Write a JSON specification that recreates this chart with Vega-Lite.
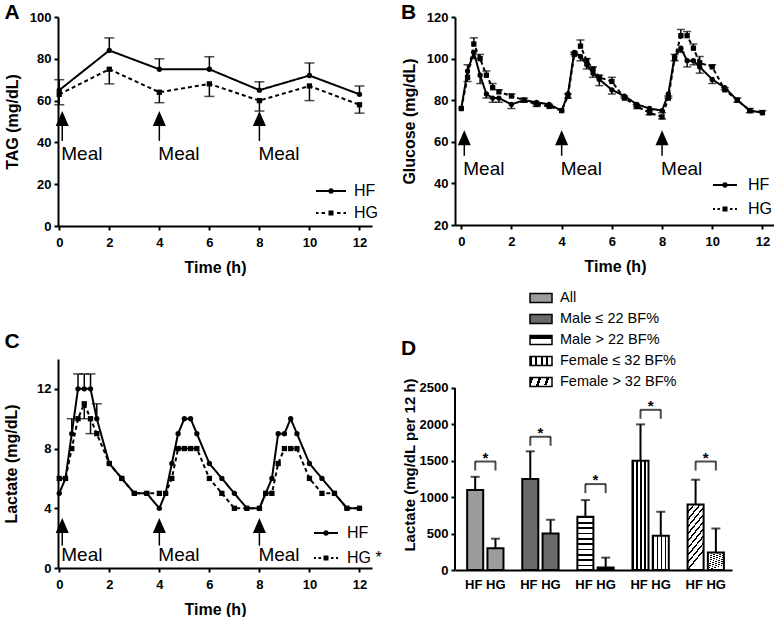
{
  "$schema": "https://vega.github.io/schema/vega-lite/v6.json",
  "padding": {"left": 3, "top": 2, "right": 0, "bottom": 0},
  "columns": 2,
  "bounds": "flush",
  "spacing": {"row": 133, "column": 83},
  "resolve": {"scale": {"shape": "independent", "fill": "independent"}, "legend": {"shape": "independent", "fill": "independent"}},
  "params": [
    {"name": "gH", "value": {"gradient": "linear", "x1": 0, "y1": 0, "x2": 0, "y2": 1, "stops": [
      {"offset": 0, "color": "black"}, {"offset": 0.03, "color": "black"}, {"offset": 0.03, "color": "white"}, {"offset": 0.1, "color": "white"},
      {"offset": 0.1, "color": "black"}, {"offset": 0.13, "color": "black"}, {"offset": 0.13, "color": "white"}, {"offset": 0.2, "color": "white"},
      {"offset": 0.2, "color": "black"}, {"offset": 0.23, "color": "black"}, {"offset": 0.23, "color": "white"}, {"offset": 0.3, "color": "white"},
      {"offset": 0.3, "color": "black"}, {"offset": 0.33, "color": "black"}, {"offset": 0.33, "color": "white"}, {"offset": 0.4, "color": "white"},
      {"offset": 0.4, "color": "black"}, {"offset": 0.43, "color": "black"}, {"offset": 0.43, "color": "white"}, {"offset": 0.5, "color": "white"},
      {"offset": 0.5, "color": "black"}, {"offset": 0.53, "color": "black"}, {"offset": 0.53, "color": "white"}, {"offset": 0.6, "color": "white"},
      {"offset": 0.6, "color": "black"}, {"offset": 0.63, "color": "black"}, {"offset": 0.63, "color": "white"}, {"offset": 0.7, "color": "white"},
      {"offset": 0.7, "color": "black"}, {"offset": 0.73, "color": "black"}, {"offset": 0.73, "color": "white"}, {"offset": 0.8, "color": "white"},
      {"offset": 0.8, "color": "black"}, {"offset": 0.83, "color": "black"}, {"offset": 0.83, "color": "white"}, {"offset": 0.9, "color": "white"},
      {"offset": 0.9, "color": "black"}, {"offset": 0.93, "color": "black"}, {"offset": 0.93, "color": "white"}, {"offset": 1, "color": "white"}
    ]}},
    {"name": "gV", "value": {"gradient": "linear", "x1": 0, "y1": 0, "x2": 1, "y2": 0, "stops": [
      {"offset": 0, "color": "black"}, {"offset": 0.08, "color": "black"}, {"offset": 0.08, "color": "white"}, {"offset": 0.25, "color": "white"},
      {"offset": 0.25, "color": "black"}, {"offset": 0.33, "color": "black"}, {"offset": 0.33, "color": "white"}, {"offset": 0.5, "color": "white"},
      {"offset": 0.5, "color": "black"}, {"offset": 0.58, "color": "black"}, {"offset": 0.58, "color": "white"}, {"offset": 0.75, "color": "white"},
      {"offset": 0.75, "color": "black"}, {"offset": 0.83, "color": "black"}, {"offset": 0.83, "color": "white"}, {"offset": 1, "color": "white"}
    ]}},
    {"name": "gD", "value": {"gradient": "linear", "x1": 0, "y1": 0, "x2": 0.3, "y2": 1, "stops": [
      {"offset": 0, "color": "black"}, {"offset": 0.03, "color": "black"}, {"offset": 0.03, "color": "white"}, {"offset": 0.1, "color": "white"},
      {"offset": 0.1, "color": "black"}, {"offset": 0.13, "color": "black"}, {"offset": 0.13, "color": "white"}, {"offset": 0.2, "color": "white"},
      {"offset": 0.2, "color": "black"}, {"offset": 0.23, "color": "black"}, {"offset": 0.23, "color": "white"}, {"offset": 0.3, "color": "white"},
      {"offset": 0.3, "color": "black"}, {"offset": 0.33, "color": "black"}, {"offset": 0.33, "color": "white"}, {"offset": 0.4, "color": "white"},
      {"offset": 0.4, "color": "black"}, {"offset": 0.43, "color": "black"}, {"offset": 0.43, "color": "white"}, {"offset": 0.5, "color": "white"},
      {"offset": 0.5, "color": "black"}, {"offset": 0.53, "color": "black"}, {"offset": 0.53, "color": "white"}, {"offset": 0.6, "color": "white"},
      {"offset": 0.6, "color": "black"}, {"offset": 0.63, "color": "black"}, {"offset": 0.63, "color": "white"}, {"offset": 0.7, "color": "white"},
      {"offset": 0.7, "color": "black"}, {"offset": 0.73, "color": "black"}, {"offset": 0.73, "color": "white"}, {"offset": 0.8, "color": "white"},
      {"offset": 0.8, "color": "black"}, {"offset": 0.83, "color": "black"}, {"offset": 0.83, "color": "white"}, {"offset": 0.9, "color": "white"},
      {"offset": 0.9, "color": "black"}, {"offset": 0.93, "color": "black"}, {"offset": 0.93, "color": "white"}, {"offset": 1, "color": "white"}
    ]}}
  ],
  "config": {
    "font": "Liberation Sans",
    "view": {"stroke": null},
    "axis": {"domainColor": "black", "domainWidth": 2, "tickColor": "black", "tickWidth": 2, "tickSize": 4, "labelFont": "Liberation Sans", "labelFontSize": 13, "labelFontWeight": "bold", "labelColor": "black", "titleFont": "Liberation Sans", "titleFontSize": 16, "titleFontWeight": "bold", "titleColor": "black", "grid": false, "labelOverlap": false},
    "axisX": {"labelPadding": 6, "titlePadding": 10, "labelAngle": 0},
    "axisY": {"labelPadding": 3, "titlePadding": 9},
    "title": {"anchor": "start", "frame": "group", "fontSize": 21, "fontWeight": "bold", "color": "black", "font": "Liberation Sans", "offset": 0},
    "legend": {"labelFont": "Liberation Sans", "labelColor": "black", "titleColor": "black", "titleFont": "Liberation Sans"}
  },
  "datasets": {
    "meals": [{"t": 0.12, "label": "Meal"}, {"t": 4, "label": "Meal"}, {"t": 8, "label": "Meal"}],
    "tag": [
      {"t": 0, "diet": "HF", "v": 65, "e": 70}, {"t": 2, "diet": "HF", "v": 84, "e": 90}, {"t": 4, "diet": "HF", "v": 75, "e": 80}, {"t": 6, "diet": "HF", "v": 75, "e": 81}, {"t": 8, "diet": "HF", "v": 65, "e": 69}, {"t": 10, "diet": "HF", "v": 72, "e": 78}, {"t": 12, "diet": "HF", "v": 63, "e": 67},
      {"t": 0, "diet": "HG", "v": 63, "e": 58}, {"t": 2, "diet": "HG", "v": 75, "e": 68}, {"t": 4, "diet": "HG", "v": 64, "e": 59}, {"t": 6, "diet": "HG", "v": 68, "e": 62}, {"t": 8, "diet": "HG", "v": 60, "e": 55}, {"t": 10, "diet": "HG", "v": 67, "e": 60}, {"t": 12, "diet": "HG", "v": 58, "e": 54}
    ],
    "glucose": [
      {"t": 0, "diet": "HF", "v": 76, "e": 76}, {"t": 0.25, "diet": "HF", "v": 94, "e": 97}, {"t": 0.5, "diet": "HF", "v": 103, "e": 100}, {"t": 0.75, "diet": "HF", "v": 92, "e": 88}, {"t": 1, "diet": "HF", "v": 83, "e": 81}, {"t": 1.25, "diet": "HF", "v": 81, "e": 79}, {"t": 1.5, "diet": "HF", "v": 81, "e": 79}, {"t": 2, "diet": "HF", "v": 78, "e": 76}, {"t": 2.5, "diet": "HF", "v": 80, "e": 79}, {"t": 3, "diet": "HF", "v": 79, "e": 78}, {"t": 3.5, "diet": "HF", "v": 78, "e": 77}, {"t": 4, "diet": "HF", "v": 75, "e": 75},
      {"t": 4.25, "diet": "HF", "v": 83, "e": 81}, {"t": 4.5, "diet": "HF", "v": 103, "e": 102}, {"t": 4.75, "diet": "HF", "v": 101, "e": 99}, {"t": 5, "diet": "HF", "v": 97, "e": 95}, {"t": 5.25, "diet": "HF", "v": 93, "e": 91}, {"t": 5.5, "diet": "HF", "v": 90, "e": 87}, {"t": 6, "diet": "HF", "v": 85, "e": 83}, {"t": 6.5, "diet": "HF", "v": 82, "e": 81}, {"t": 7, "diet": "HF", "v": 78, "e": 77}, {"t": 7.5, "diet": "HF", "v": 76, "e": 75}, {"t": 8, "diet": "HF", "v": 75, "e": 74},
      {"t": 8.25, "diet": "HF", "v": 83, "e": 81}, {"t": 8.5, "diet": "HF", "v": 101, "e": 99}, {"t": 8.75, "diet": "HF", "v": 105, "e": 103}, {"t": 9, "diet": "HF", "v": 99, "e": 96}, {"t": 9.25, "diet": "HF", "v": 99, "e": 97}, {"t": 9.5, "diet": "HF", "v": 96, "e": 93}, {"t": 10, "diet": "HF", "v": 90, "e": 88}, {"t": 10.5, "diet": "HF", "v": 86, "e": 85}, {"t": 11, "diet": "HF", "v": 80, "e": 79}, {"t": 11.5, "diet": "HF", "v": 75, "e": 74}, {"t": 12, "diet": "HF", "v": 74, "e": 74},
      {"t": 0, "diet": "HG", "v": 76, "e": 76}, {"t": 0.25, "diet": "HG", "v": 91, "e": 89}, {"t": 0.5, "diet": "HG", "v": 107, "e": 110}, {"t": 0.75, "diet": "HG", "v": 100, "e": 102}, {"t": 1, "diet": "HG", "v": 92, "e": 94}, {"t": 1.25, "diet": "HG", "v": 86, "e": 88}, {"t": 1.5, "diet": "HG", "v": 84, "e": 85}, {"t": 2, "diet": "HG", "v": 82, "e": 83}, {"t": 2.5, "diet": "HG", "v": 80, "e": 81}, {"t": 3, "diet": "HG", "v": 78, "e": 77}, {"t": 3.5, "diet": "HG", "v": 77, "e": 78}, {"t": 4, "diet": "HG", "v": 75, "e": 75},
      {"t": 4.25, "diet": "HG", "v": 82, "e": 83}, {"t": 4.5, "diet": "HG", "v": 102, "e": 103}, {"t": 4.75, "diet": "HG", "v": 106, "e": 109}, {"t": 5, "diet": "HG", "v": 99, "e": 100}, {"t": 5.25, "diet": "HG", "v": 95, "e": 96}, {"t": 5.5, "diet": "HG", "v": 91, "e": 92}, {"t": 6, "diet": "HG", "v": 89, "e": 91}, {"t": 6.5, "diet": "HG", "v": 81, "e": 82}, {"t": 7, "diet": "HG", "v": 77, "e": 76}, {"t": 7.5, "diet": "HG", "v": 74, "e": 73}, {"t": 8, "diet": "HG", "v": 72, "e": 71},
      {"t": 8.25, "diet": "HG", "v": 81, "e": 82}, {"t": 8.5, "diet": "HG", "v": 100, "e": 102}, {"t": 8.75, "diet": "HG", "v": 111, "e": 114}, {"t": 9, "diet": "HG", "v": 111, "e": 113}, {"t": 9.25, "diet": "HG", "v": 105, "e": 107}, {"t": 9.5, "diet": "HG", "v": 98, "e": 101}, {"t": 10, "diet": "HG", "v": 96, "e": 97}, {"t": 10.5, "diet": "HG", "v": 85, "e": 86}, {"t": 11, "diet": "HG", "v": 80, "e": 81}, {"t": 11.5, "diet": "HG", "v": 75, "e": 76}, {"t": 12, "diet": "HG", "v": 74, "e": 75}
    ],
    "lactate": [
      {"t": 0, "diet": "HF", "v": 5, "e": 5}, {"t": 0.25, "diet": "HF", "v": 6, "e": 6}, {"t": 0.5, "diet": "HF", "v": 9, "e": 10}, {"t": 0.75, "diet": "HF", "v": 12, "e": 13}, {"t": 1, "diet": "HF", "v": 12, "e": 13}, {"t": 1.25, "diet": "HF", "v": 12, "e": 13}, {"t": 1.5, "diet": "HF", "v": 10, "e": 11}, {"t": 2, "diet": "HF", "v": 7, "e": 7}, {"t": 2.5, "diet": "HF", "v": 6, "e": 6}, {"t": 3, "diet": "HF", "v": 5, "e": 5}, {"t": 3.5, "diet": "HF", "v": 5, "e": 5}, {"t": 4, "diet": "HF", "v": 4, "e": 4},
      {"t": 4.25, "diet": "HF", "v": 5, "e": 5}, {"t": 4.5, "diet": "HF", "v": 7, "e": 7}, {"t": 4.75, "diet": "HF", "v": 9, "e": 9}, {"t": 5, "diet": "HF", "v": 10, "e": 10}, {"t": 5.25, "diet": "HF", "v": 10, "e": 10}, {"t": 5.5, "diet": "HF", "v": 9, "e": 9}, {"t": 6, "diet": "HF", "v": 7, "e": 7}, {"t": 6.5, "diet": "HF", "v": 6, "e": 6}, {"t": 7, "diet": "HF", "v": 5, "e": 5}, {"t": 7.5, "diet": "HF", "v": 4, "e": 4}, {"t": 8, "diet": "HF", "v": 4, "e": 4},
      {"t": 8.25, "diet": "HF", "v": 5, "e": 5}, {"t": 8.5, "diet": "HF", "v": 6, "e": 6}, {"t": 8.75, "diet": "HF", "v": 9, "e": 9}, {"t": 9, "diet": "HF", "v": 9, "e": 9}, {"t": 9.25, "diet": "HF", "v": 10, "e": 10}, {"t": 9.5, "diet": "HF", "v": 9, "e": 9}, {"t": 10, "diet": "HF", "v": 7, "e": 7}, {"t": 10.5, "diet": "HF", "v": 6, "e": 6}, {"t": 11, "diet": "HF", "v": 5, "e": 5}, {"t": 11.5, "diet": "HF", "v": 4, "e": 4}, {"t": 12, "diet": "HF", "v": 4, "e": 4},
      {"t": 0, "diet": "HG", "v": 6, "e": 6}, {"t": 0.25, "diet": "HG", "v": 6, "e": 6}, {"t": 0.5, "diet": "HG", "v": 8, "e": 8}, {"t": 0.75, "diet": "HG", "v": 10, "e": 10}, {"t": 1, "diet": "HG", "v": 11, "e": 10}, {"t": 1.25, "diet": "HG", "v": 10, "e": 9}, {"t": 1.5, "diet": "HG", "v": 9, "e": 9}, {"t": 2, "diet": "HG", "v": 7, "e": 7}, {"t": 2.5, "diet": "HG", "v": 6, "e": 6}, {"t": 3, "diet": "HG", "v": 5, "e": 5}, {"t": 3.5, "diet": "HG", "v": 5, "e": 5}, {"t": 4, "diet": "HG", "v": 5, "e": 5},
      {"t": 4.25, "diet": "HG", "v": 5, "e": 5}, {"t": 4.5, "diet": "HG", "v": 6, "e": 6}, {"t": 4.75, "diet": "HG", "v": 8, "e": 8}, {"t": 5, "diet": "HG", "v": 8, "e": 8}, {"t": 5.25, "diet": "HG", "v": 8, "e": 8}, {"t": 5.5, "diet": "HG", "v": 8, "e": 8}, {"t": 6, "diet": "HG", "v": 6, "e": 6}, {"t": 6.5, "diet": "HG", "v": 5, "e": 5}, {"t": 7, "diet": "HG", "v": 4, "e": 4}, {"t": 7.5, "diet": "HG", "v": 4, "e": 4}, {"t": 8, "diet": "HG", "v": 4, "e": 4},
      {"t": 8.25, "diet": "HG", "v": 5, "e": 5}, {"t": 8.5, "diet": "HG", "v": 5, "e": 5}, {"t": 8.75, "diet": "HG", "v": 7, "e": 7}, {"t": 9, "diet": "HG", "v": 8, "e": 8}, {"t": 9.25, "diet": "HG", "v": 8, "e": 8}, {"t": 9.5, "diet": "HG", "v": 8, "e": 8}, {"t": 10, "diet": "HG", "v": 6, "e": 6}, {"t": 10.5, "diet": "HG", "v": 5, "e": 5}, {"t": 11, "diet": "HG", "v": 5, "e": 5}, {"t": 11.5, "diet": "HG", "v": 4, "e": 4}, {"t": 12, "diet": "HG", "v": 4, "e": 4}
    ],
    "lactsum": [
      {"group": "All", "diet": "HF", "v": 1100, "e": 1280, "sig": 1490}, {"group": "All", "diet": "HG", "v": 300, "e": 430, "sig": 1490},
      {"group": "Male ≤ 22 BF%", "diet": "HF", "v": 1250, "e": 1630, "sig": 1830}, {"group": "Male ≤ 22 BF%", "diet": "HG", "v": 500, "e": 690, "sig": 1830},
      {"group": "Male > 22 BF%", "diet": "HF", "v": 730, "e": 960, "sig": 1180}, {"group": "Male > 22 BF%", "diet": "HG", "v": 35, "e": 170, "sig": 1180},
      {"group": "Female ≤ 32 BF%", "diet": "HF", "v": 1500, "e": 2000, "sig": 2200}, {"group": "Female ≤ 32 BF%", "diet": "HG", "v": 470, "e": 800, "sig": 2200},
      {"group": "Female > 32 BF%", "diet": "HF", "v": 900, "e": 1240, "sig": 1490}, {"group": "Female > 32 BF%", "diet": "HG", "v": 240, "e": 570, "sig": 1490}
    ]
  },
  "concat": [
    {
      "width": 314, "height": 209,
      "title": {"text": "A", "dx": -53.5, "dy": 16},
      "data": {"name": "tag"},
      "encoding": {"x": {"field": "t", "type": "quantitative", "scale": {"domain": [-0.05, 12.5], "nice": false}, "axis": {"values": [0, 2, 4, 6, 8, 10, 12], "title": "Time (h)"}}},
      "layer": [
        {"mark": {"type": "line", "color": "black", "strokeWidth": 2}, "encoding": {"y": {"field": "v", "type": "quantitative", "scale": {"domain": [0, 100], "nice": false}, "axis": {"values": [0, 20, 40, 60, 80, 100], "title": "TAG (mg/dL)"}}, "detail": {"field": "diet"}, "strokeDash": {"condition": {"test": "datum.diet == 'HG'", "value": [4, 3]}, "value": [1, 0]}}},
        {"transform": [{"filter": "datum.e != datum.v"}], "mark": {"type": "rule", "color": "black", "strokeWidth": 1.5}, "encoding": {"y": {"field": "v", "type": "quantitative"}, "y2": {"field": "e"}}},
        {"transform": [{"filter": "datum.e != datum.v"}], "mark": {"type": "tick", "orient": "horizontal", "color": "black", "thickness": 1.5, "size": 10}, "encoding": {"y": {"field": "e", "type": "quantitative"}}},
        {"mark": {"type": "point", "filled": true, "size": 28, "color": "black", "opacity": 1}, "encoding": {"y": {"field": "v", "type": "quantitative"}, "shape": {"condition": {"test": "datum.diet == 'HG'", "value": "square"}, "value": "circle"}}},
        {"mark": {"type": "point", "filled": true, "size": 100, "color": "black", "opacity": 0}, "encoding": {"y": {"field": "v", "type": "quantitative"}, "shape": {"field": "diet", "type": "nominal", "scale": {"domain": ["HF", "HG"], "range": ["M-3,-0.2H-0.5V0.2H-3ZM0.5,-0.2H3V0.2H0.5ZM0.55,0A0.55,0.55,0,1,1,-0.55,0A0.55,0.55,0,1,1,0.55,0Z", "M-3,-0.2H-2.5V0.2H-3ZM-1.9,-0.2H-1.2V0.2H-1.9ZM-0.5,-0.5H0.5V0.5H-0.5ZM1.2,-0.2H1.9V0.2H1.2ZM2.5,-0.2H3V0.2H2.5Z"]}, "legend": {"title": null, "orient": "none", "legendX": 265, "legendY": 166, "labelFontSize": 16, "labelFontWeight": "normal", "symbolSize": 100, "labelOffset": 15, "rowPadding": 6, "symbolOpacity": 1, "symbolStrokeWidth": 0, "symbolFillColor": "black"}}}},
        {"data": {"name": "meals"}, "mark": {"type": "rule", "color": "black", "strokeWidth": 1.5}, "encoding": {"y": {"datum": 40.7, "type": "quantitative"}, "y2": {"datum": 48}}},
        {"data": {"name": "meals"}, "mark": {"type": "point", "filled": true, "color": "black", "opacity": 1, "size": 225, "shape": "M0,-1L0.87,1L-0.87,1Z"}, "encoding": {"y": {"datum": 51.4, "type": "quantitative"}}},
        {"data": {"name": "meals"}, "mark": {"type": "text", "align": "left", "baseline": "alphabetic", "fontSize": 19, "dx": -1, "color": "black"}, "encoding": {"y": {"datum": 31.5, "type": "quantitative"}, "text": {"field": "label"}}}
      ]
    },
    {
      "width": 320, "height": 208,
      "title": {"text": "B", "dx": -54, "dy": 16},
      "data": {"name": "glucose"},
      "encoding": {"x": {"field": "t", "type": "quantitative", "scale": {"domain": [-0.25, 12.5], "nice": false}, "axis": {"values": [0, 2, 4, 6, 8, 10, 12], "title": "Time (h)"}}},
      "layer": [
        {"mark": {"type": "line", "color": "black", "strokeWidth": 2}, "encoding": {"y": {"field": "v", "type": "quantitative", "scale": {"domain": [20, 120], "nice": false, "zero": false}, "axis": {"values": [20, 40, 60, 80, 100, 120], "title": "Glucose (mg/dL)"}}, "detail": {"field": "diet"}, "strokeDash": {"condition": {"test": "datum.diet == 'HG'", "value": [4, 3]}, "value": [1, 0]}}},
        {"transform": [{"filter": "datum.e != datum.v"}], "mark": {"type": "rule", "color": "black", "strokeWidth": 1.5}, "encoding": {"y": {"field": "v", "type": "quantitative"}, "y2": {"field": "e"}}},
        {"transform": [{"filter": "datum.e != datum.v"}], "mark": {"type": "tick", "orient": "horizontal", "color": "black", "thickness": 1.5, "size": 8}, "encoding": {"y": {"field": "e", "type": "quantitative"}}},
        {"mark": {"type": "point", "filled": true, "size": 28, "color": "black", "opacity": 1}, "encoding": {"y": {"field": "v", "type": "quantitative"}, "shape": {"condition": {"test": "datum.diet == 'HG'", "value": "square"}, "value": "circle"}}},
        {"mark": {"type": "point", "filled": true, "size": 100, "color": "black", "opacity": 0}, "encoding": {"y": {"field": "v", "type": "quantitative"}, "shape": {"field": "diet", "type": "nominal", "scale": {"domain": ["HF", "HG"], "range": ["M-2.4,-0.2H-0.5V0.2H-2.4ZM0.5,-0.2H2.4V0.2H0.5ZM0.55,0A0.55,0.55,0,1,1,-0.55,0A0.55,0.55,0,1,1,0.55,0Z", "M-2.4,-0.2H-2V0.2H-2.4ZM-1.5,-0.2H-1V0.2H-1.5ZM-0.5,-0.5H0.5V0.5H-0.5ZM1,-0.2H1.5V0.2H1ZM2,-0.2H2.4V0.2H2Z"]}, "legend": {"title": null, "orient": "none", "legendX": 262, "legendY": 160, "labelFontSize": 16, "labelFontWeight": "normal", "symbolSize": 100, "labelOffset": 15, "rowPadding": 8, "symbolOpacity": 1, "symbolStrokeWidth": 0, "symbolFillColor": "black"}}}},
        {"data": {"name": "meals"}, "mark": {"type": "rule", "color": "black", "strokeWidth": 1.5}, "encoding": {"y": {"datum": 53.3, "type": "quantitative"}, "y2": {"datum": 59}}},
        {"data": {"name": "meals"}, "mark": {"type": "point", "filled": true, "color": "black", "opacity": 1, "size": 225, "shape": "M0,-1L0.87,1L-0.87,1Z"}, "encoding": {"y": {"datum": 62, "type": "quantitative"}}},
        {"data": {"name": "meals"}, "mark": {"type": "text", "align": "left", "baseline": "alphabetic", "fontSize": 19, "dx": -1, "color": "black"}, "encoding": {"y": {"datum": 44, "type": "quantitative"}, "text": {"field": "label"}}}
      ]
    },
    {
      "width": 314, "height": 209,
      "title": {"text": "C", "dx": -53.5, "dy": -3},
      "data": {"name": "lactate"},
      "encoding": {"x": {"field": "t", "type": "quantitative", "scale": {"domain": [-0.05, 12.5], "nice": false}, "axis": {"values": [0, 2, 4, 6, 8, 10, 12], "title": "Time (h)"}}},
      "layer": [
        {"mark": {"type": "line", "color": "black", "strokeWidth": 2}, "encoding": {"y": {"field": "v", "type": "quantitative", "scale": {"domain": [0, 14], "nice": false}, "axis": {"values": [0, 2, 4, 6, 8, 10, 12, 14], "title": "Lactate (mg/dL)", "titlePadding": 17}}, "detail": {"field": "diet"}, "strokeDash": {"condition": {"test": "datum.diet == 'HG'", "value": [4, 3]}, "value": [1, 0]}}},
        {"transform": [{"filter": "datum.e != datum.v"}], "mark": {"type": "rule", "color": "black", "strokeWidth": 1.5}, "encoding": {"y": {"field": "v", "type": "quantitative"}, "y2": {"field": "e"}}},
        {"transform": [{"filter": "datum.e != datum.v"}], "mark": {"type": "tick", "orient": "horizontal", "color": "black", "thickness": 1.5, "size": 10}, "encoding": {"y": {"field": "e", "type": "quantitative"}}},
        {"mark": {"type": "point", "filled": true, "size": 28, "color": "black", "opacity": 1}, "encoding": {"y": {"field": "v", "type": "quantitative"}, "shape": {"condition": {"test": "datum.diet == 'HG'", "value": "square"}, "value": "circle"}}},
        {"mark": {"type": "point", "filled": true, "size": 100, "color": "black", "opacity": 0}, "encoding": {"y": {"field": "v", "type": "quantitative"}, "shape": {"field": "diet", "type": "nominal", "scale": {"domain": ["HF", "HG"], "range": ["M-2.4,-0.2H-0.5V0.2H-2.4ZM0.5,-0.2H2.4V0.2H0.5ZM0.55,0A0.55,0.55,0,1,1,-0.55,0A0.55,0.55,0,1,1,0.55,0Z", "M-2.4,-0.2H-2V0.2H-2.4ZM-1.5,-0.2H-1V0.2H-1.5ZM-0.5,-0.5H0.5V0.5H-0.5ZM1,-0.2H1.5V0.2H1ZM2,-0.2H2.4V0.2H2Z"]}, "legend": {"title": null, "orient": "none", "legendX": 260, "legendY": 166, "labelFontSize": 16, "labelFontWeight": "normal", "symbolSize": 100, "labelOffset": 13, "rowPadding": 9, "symbolOpacity": 1, "symbolStrokeWidth": 0, "symbolFillColor": "black", "labelExpr": "datum.label == 'HG' ? 'HG *' : datum.label"}}}},
        {"data": {"name": "meals"}, "mark": {"type": "rule", "color": "black", "strokeWidth": 1.5}, "encoding": {"y": {"datum": 1.5, "type": "quantitative"}, "y2": {"datum": 2.4}}},
        {"data": {"name": "meals"}, "mark": {"type": "point", "filled": true, "color": "black", "opacity": 1, "size": 225, "shape": "M0,-1L0.87,1L-0.87,1Z"}, "encoding": {"y": {"datum": 2.84, "type": "quantitative"}}},
        {"data": {"name": "meals"}, "mark": {"type": "text", "align": "left", "baseline": "alphabetic", "fontSize": 19, "dx": -1, "color": "black"}, "encoding": {"y": {"datum": 0.5, "type": "quantitative"}, "text": {"field": "label"}}}
      ]
    },
    {
      "width": 277, "height": 211,
      "data": {"name": "lactsum"},
      "encoding": {"x": {"field": "group", "type": "nominal", "sort": null, "scale": {"domain": ["All", "Male ≤ 22 BF%", "Male > 22 BF%", "Female ≤ 32 BF%", "Female > 32 BF%"], "paddingInner": 0.341, "paddingOuter": 0.184, "align": 0.6}, "axis": {"title": null, "ticks": false, "labelExpr": "'HF HG'", "labelPadding": 8, "labelAngle": 0}}},
      "layer": [
        {"mark": {"type": "rule", "color": "black", "strokeWidth": 2}, "encoding": {"x": {"value": 0}, "y": {"datum": 0, "type": "quantitative"}, "y2": {"datum": 2500}}},
        {"mark": {"type": "bar", "stroke": "black", "strokeWidth": 2}, "encoding": {
          "xOffset": {"field": "diet", "type": "nominal", "scale": {"domain": ["HF", "HG"], "paddingInner": 0.21, "paddingOuter": 0}},
          "y": {"field": "v", "type": "quantitative", "scale": {"domain": [0, 2898], "nice": false}, "axis": {"values": [0, 500, 1000, 1500, 2000, 2500], "format": "d", "domain": false, "title": "Lactate (mg/dL per 12 h)", "titleFontSize": 15, "titlePadding": 2}},
          "fill": {
            "field": "group", "type": "nominal",
            "scale": {"domain": ["All", "Male ≤ 22 BF%", "Male > 22 BF%", "Female ≤ 32 BF%", "Female > 32 BF%"], "range": ["#9c9c9c", "#6a6a6a", {"expr": "gH"}, {"expr": "gV"}, {"expr": "gD"}]},
            "legend": {"title": "D", "orient": "none", "legendX": -54, "legendY": -73, "titleOrient": "left", "titleAnchor": "middle", "titleBaseline": "top", "titleFontSize": 21, "titleFontWeight": "bold", "titlePadding": 112, "symbolType": "M-1,-0.4H1V0.4H-1Z", "symbolSize": 484, "symbolStrokeColor": "black", "symbolStrokeWidth": 1.5, "symbolOpacity": 1, "labelFontSize": 14.5, "labelFontWeight": "normal", "labelOffset": 7, "rowPadding": 1}
          }
        }},
        {"mark": {"type": "rule", "color": "black", "strokeWidth": 2}, "encoding": {"xOffset": {"field": "diet", "type": "nominal"}, "y": {"field": "v", "type": "quantitative"}, "y2": {"field": "e"}}},
        {"mark": {"type": "tick", "orient": "horizontal", "color": "black", "thickness": 2, "size": 9}, "encoding": {"xOffset": {"field": "diet", "type": "nominal"}, "y": {"field": "e", "type": "quantitative"}}},
        {"transform": [{"filter": "datum.diet == 'HF'"}], "mark": {"type": "tick", "orient": "horizontal", "color": "black", "thickness": 2, "size": 21}, "encoding": {"y": {"field": "sig", "type": "quantitative"}}},
        {"mark": {"type": "tick", "orient": "vertical", "color": "black", "thickness": 2, "size": 9, "yOffset": 4.5}, "encoding": {"xOffset": {"field": "diet", "type": "nominal"}, "y": {"field": "sig", "type": "quantitative"}}},
        {"transform": [{"filter": "datum.diet == 'HF'"}], "mark": {"type": "text", "fontSize": 15, "fontWeight": "bold", "dy": 1, "baseline": "alphabetic", "color": "black"}, "encoding": {"y": {"field": "sig", "type": "quantitative"}, "text": {"value": "*"}}}
      ]
    }
  ]
}
